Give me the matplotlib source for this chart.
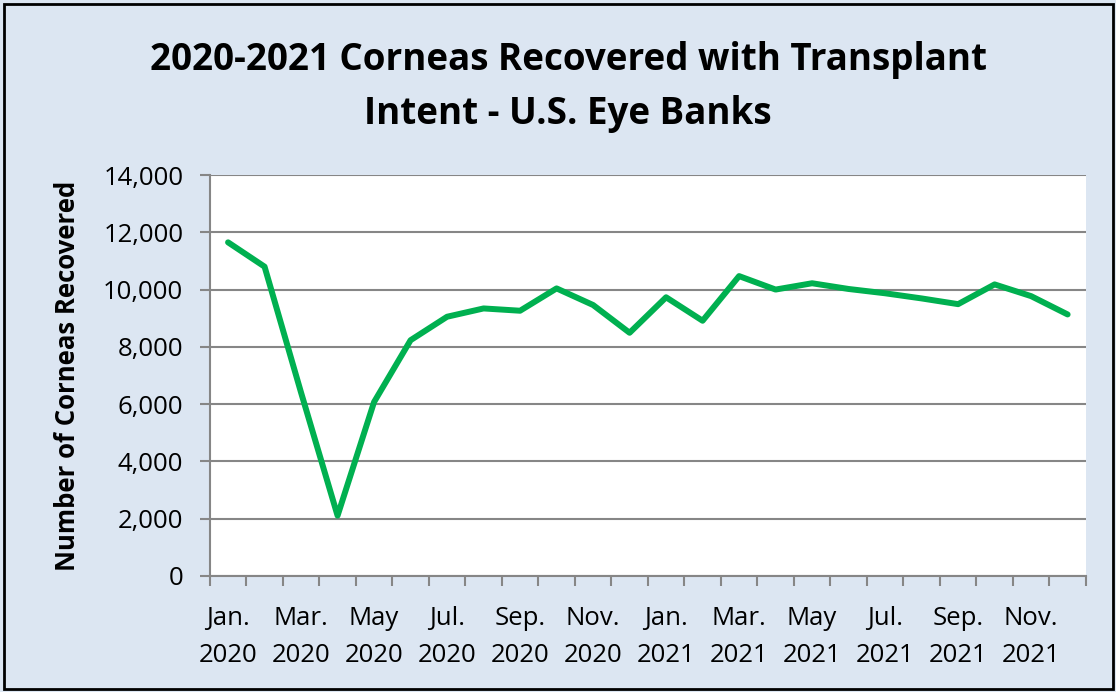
import numpy as np
import matplotlib.pyplot as plt
from matplotlib.patches import Rectangle

# --- Data: monthly corneas recovered, Jan 2020 .. Dec 2021 ---
months = ['Jan.', 'Feb.', 'Mar.', 'Apr.', 'May', 'Jun.', 'Jul.', 'Aug.',
          'Sep.', 'Oct.', 'Nov.', 'Dec.'] * 2
years = ['2020'] * 12 + ['2021'] * 12
corneas = [11650, 10800, 6400, 2100, 6070, 8230, 9050, 9340, 9260, 10040, 9460, 8490,
           9730, 8910, 10470, 10000, 10220, 10020, 9870, 9690, 9490, 10180, 9770, 9130]
y_ticks = [0, 2000, 4000, 6000, 8000, 10000, 12000, 14000]

bg = '#DCE6F2'
grid_col = '#868686'
font = ['Open Sans', 'DejaVu Sans']

plt.rcParams['font.family'] = font
fig = plt.figure(figsize=(11.16, 6.92), dpi=100, facecolor=bg)
fig.patches.append(Rectangle((0.004, 0.004), 0.993, 0.990, transform=fig.transFigure,
                             fill=False, edgecolor='black', linewidth=2))

ax = fig.add_axes([0.188, 0.168, 0.785, 0.579])
ax.set_facecolor('white')

x = np.arange(len(corneas))
ax.plot(x, corneas, color='#00B050', linewidth=4.3, solid_capstyle='round',
        solid_joinstyle='round', zorder=3)

ax.set_ylim(0, 14000)
ax.set_xlim(-0.5, len(corneas) - 0.5)
ax.set_yticks(y_ticks)
ax.set_yticklabels([f'{v:,}' for v in y_ticks])
ax.grid(axis='y', color=grid_col, linewidth=1.5)
ax.set_axisbelow(True)

# category labels every other month, ticks at category boundaries
ax.set_xticks(x[::2])
ax.set_xticklabels([f'{m}\n{y}' for m, y in zip(months[::2], years[::2])],
                   linespacing=1.62)
ax.set_xticks(np.arange(-0.5, len(corneas), 1), minor=True)
ax.tick_params(axis='x', which='major', length=0, pad=22)
ax.tick_params(axis='x', which='minor', length=7, width=1.5, color=grid_col)
ax.tick_params(axis='y', length=7, width=1.5, color=grid_col, pad=12)
ax.tick_params(labelsize=18.5)

for s in ['top', 'right']:
    ax.spines[s].set_visible(False)
for s in ['left', 'bottom']:
    ax.spines[s].set_color(grid_col)
    ax.spines[s].set_linewidth(1.5)

ax.set_ylabel('Number of Corneas Recovered', fontsize=18.5, fontweight='bold', labelpad=16)

fig.text(0.509, 0.874, '2020-2021 Corneas Recovered with Transplant\nIntent - U.S. Eye Banks',
         ha='center', va='center', fontsize=26.5, fontweight='bold', linespacing=1.55)

fig.savefig('out.png', dpi=100, facecolor=bg)
